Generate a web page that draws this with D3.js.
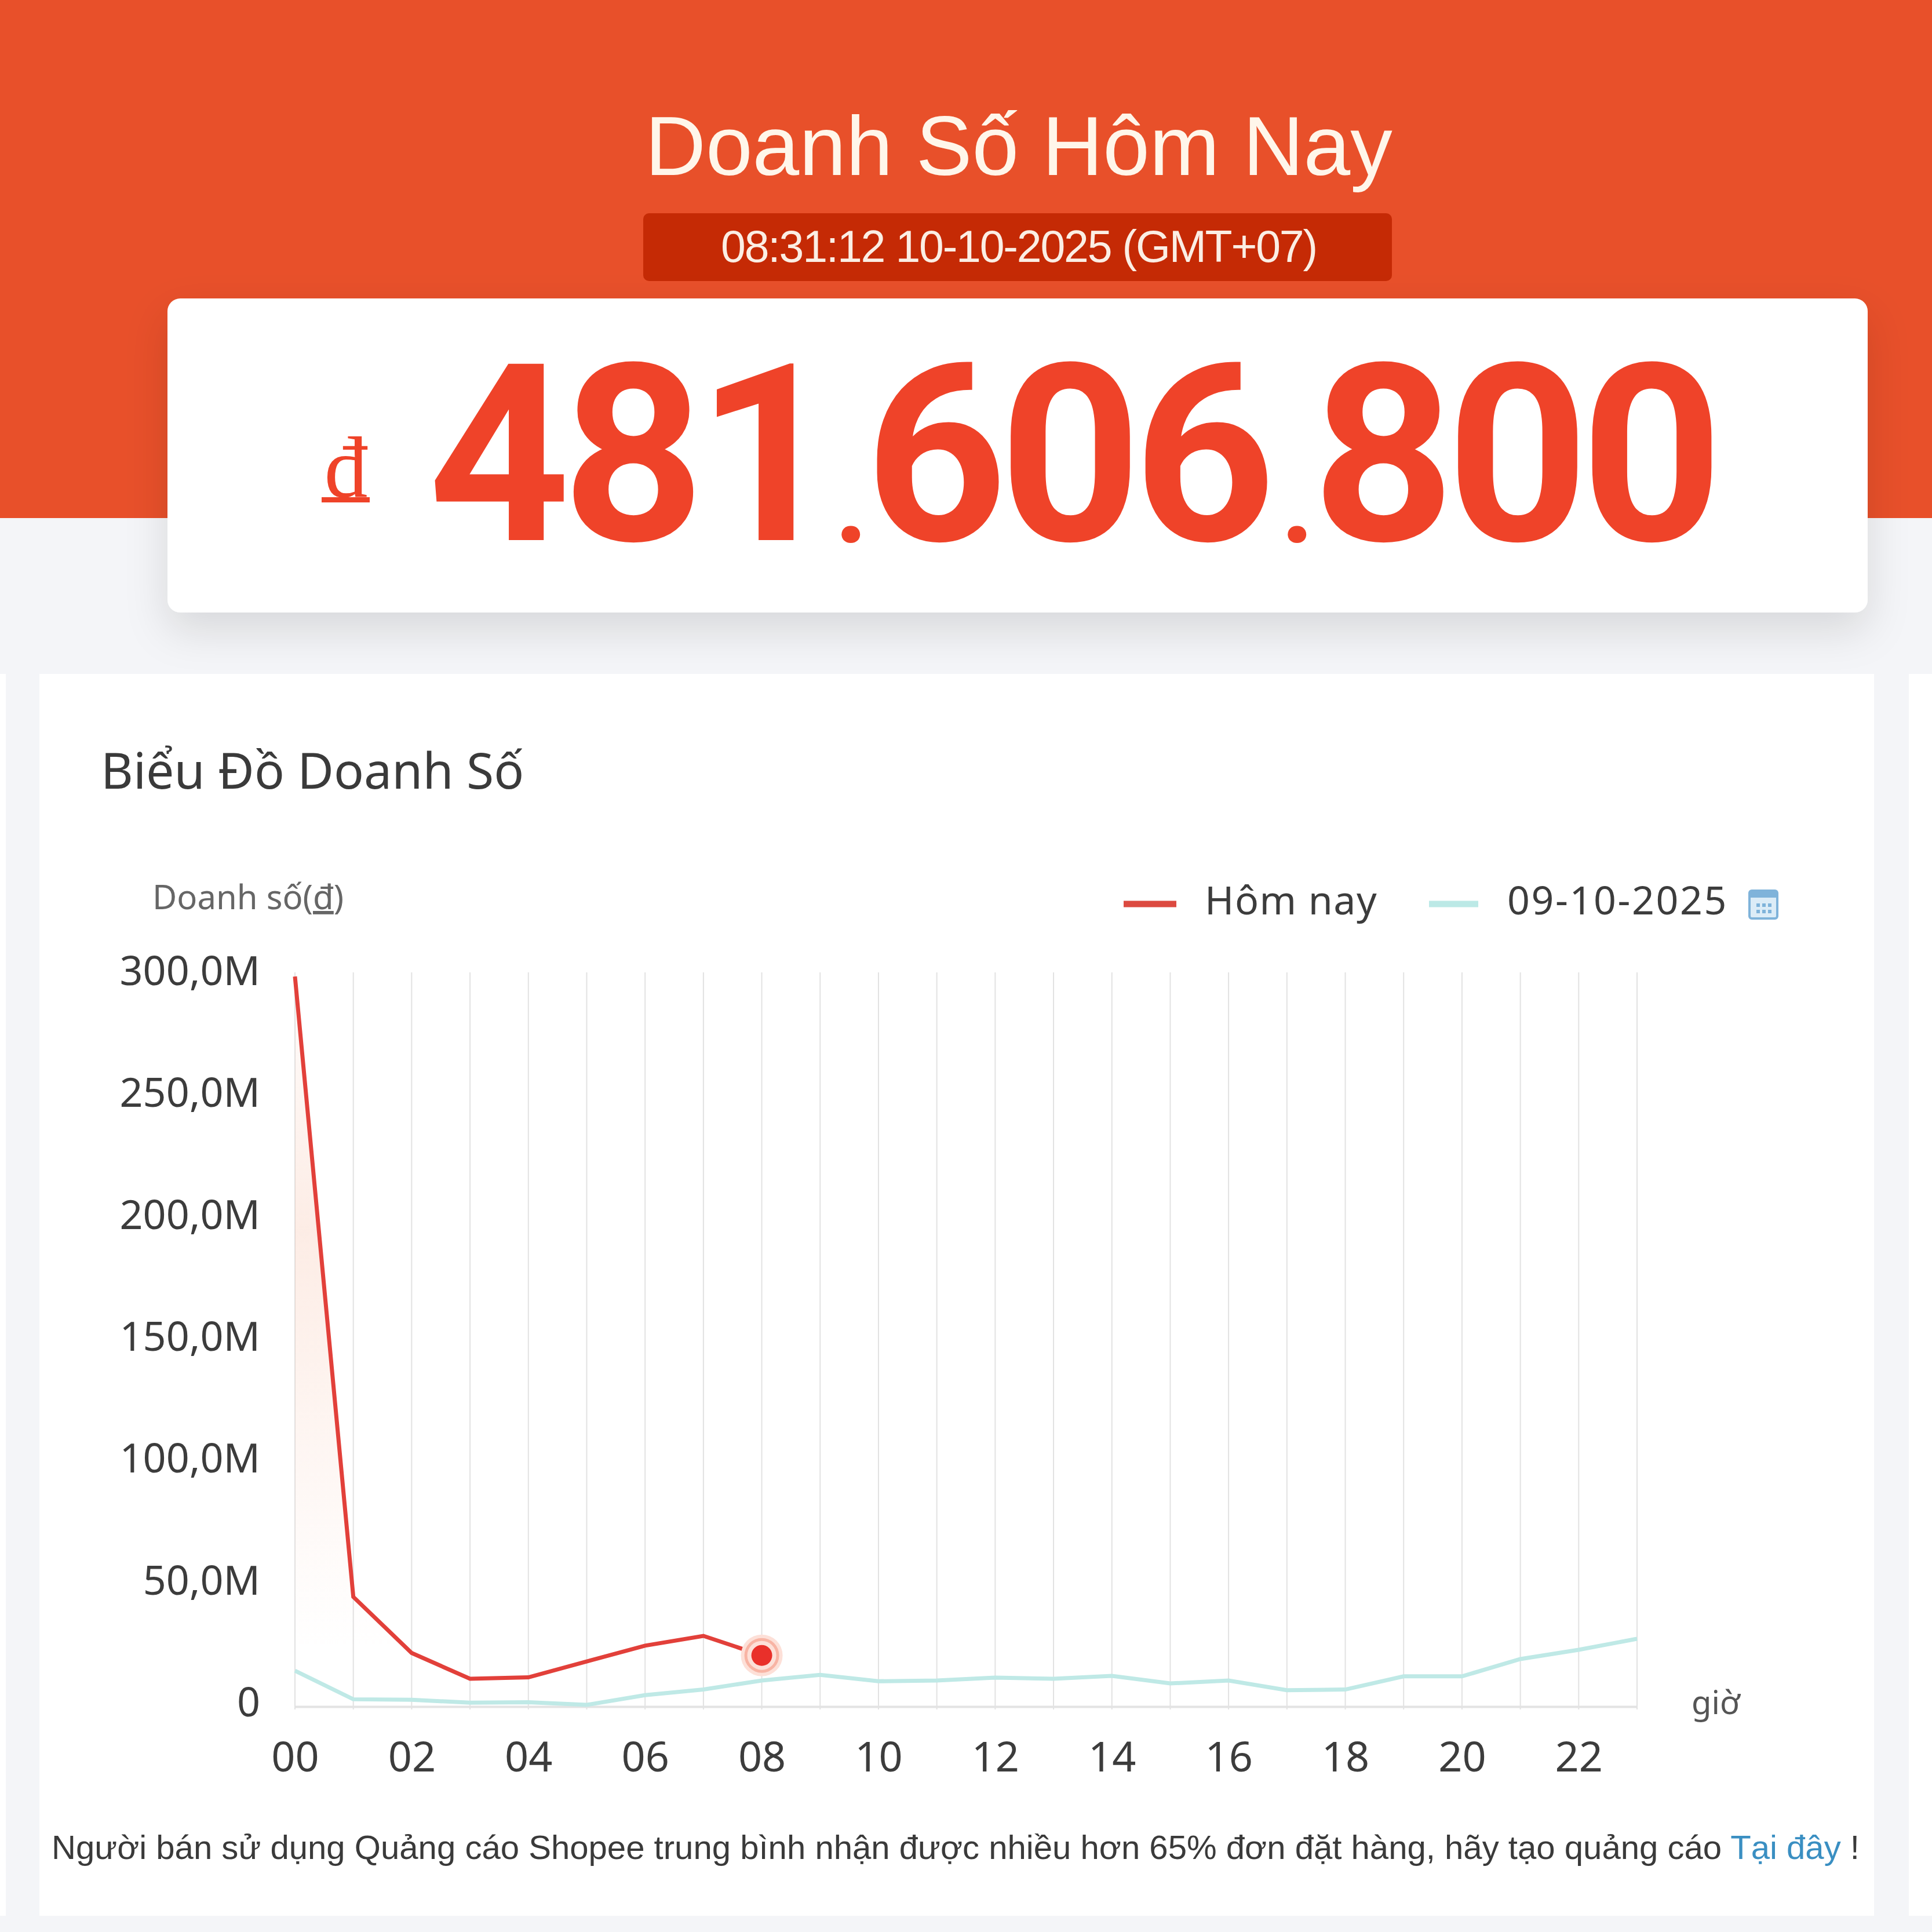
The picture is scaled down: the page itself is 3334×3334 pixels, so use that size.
<!DOCTYPE html>
<html><head><meta charset="utf-8">
<script src="https://cdn.jsdelivr.net/npm/d3@7"></script>
<style>html,body{margin:0;padding:0;background:#f4f5f8}svg{display:block}</style>
</head><body><div id="c"></div>
<script>
const hours = d3.range(0, 24);
const hourLabels = ["00","02","04","06","08","10","12","14","16","18","20","22"];
const today = [299.5,45,22,11.4,12,18.5,25,29,21];
const yesterday = [14.7,3,2.8,1.6,1.8,0.7,4.7,7,10.7,13,10.4,10.7,11.9,11.4,12.6,9.5,10.7,6.7,7,12.4,12.4,19.5,23.3,27.8];
const yTicks = [0,50,100,150,200,250,300];
const yLabels = ["0","50,0M","100,0M","150,0M","200,0M","250,0M","300,0M"];
const sansUI = "'Noto Sans','Open Sans',sans-serif";
const arial = "'Liberation Sans',Arial,sans-serif";

const W=3334,H=3334;
const svg=d3.select("#c").append("svg").attr("width",W).attr("height",H).attr("viewBox",`0 0 ${W} ${H}`);
const defs=svg.append("defs");
const sh=defs.append("filter").attr("id","sh").attr("x","-5%").attr("y","-15%").attr("width","110%").attr("height","140%");
sh.append("feDropShadow").attr("dx",0).attr("dy",30).attr("stdDeviation",36).attr("flood-color","#000").attr("flood-opacity",0.12);
const g=defs.append("linearGradient").attr("id","fill").attr("x1",0).attr("x2",0).attr("y1",0).attr("y2",1);
g.append("stop").attr("offset","0%").attr("stop-color","#f3a27e").attr("stop-opacity",0.03);
g.append("stop").attr("offset","35%").attr("stop-color","#f3a27e").attr("stop-opacity",0.2);
g.append("stop").attr("offset","92%").attr("stop-color","#f3a27e").attr("stop-opacity",0);

// backgrounds
svg.append("rect").attr("width",W).attr("height",H).attr("fill","#f4f5f8");
svg.append("rect").attr("width",W).attr("height",894).attr("fill","#e8502a");
svg.append("rect").attr("x",0).attr("y",1163).attr("width",10).attr("height",2143).attr("fill","#fff");
svg.append("rect").attr("x",3294).attr("y",1163).attr("width",40).attr("height",2143).attr("fill","#fff");

// header
svg.append("text").attr("x",1758).attr("y",302).attr("text-anchor","middle").attr("font-family",arial).attr("font-size",145).attr("fill","#fff6ea").text("Doanh Số Hôm Nay");
svg.append("rect").attr("x",1110).attr("y",368).attr("width",1292).attr("height",117).attr("rx",10).attr("fill","#c52a05");
svg.append("text").attr("x",1758).attr("y",452).attr("text-anchor","middle").attr("font-family",arial).attr("font-size",77).attr("letter-spacing",-2.2).attr("fill","#fbeee4").text("08:31:12 10-10-2025 (GMT+07)");

// total card
svg.append("rect").attr("x",289).attr("y",515).attr("width",2934).attr("height",542).attr("rx",22).attr("fill","#fff").attr("filter","url(#sh)");
const red="#ef4329";
svg.append("text").attr("x",597).attr("y",858).attr("text-anchor","middle").attr("font-family","'Liberation Serif',serif").attr("font-size",150).attr("fill",red).text("đ");
svg.append("rect").attr("x",555).attr("y",858).attr("width",83).attr("height",9).attr("fill",red);
const big=[["481",1086],["606",1840],["800",2612]];
big.forEach(([t,x])=>svg.append("text").attr("x",x).attr("y",932).attr("text-anchor","middle").attr("font-family","Roboto,sans-serif").attr("font-weight",700).attr("font-size",428).attr("letter-spacing",-14).attr("fill",red).text(t));
[1469,2239].forEach(x=>svg.append("text").attr("x",x).attr("y",936).attr("text-anchor","middle").attr("font-family","Roboto,sans-serif").attr("font-weight",700).attr("font-size",200).attr("fill",red).text("."));

// chart card
svg.append("rect").attr("x",68).attr("y",1163).attr("width",3166).attr("height",2143).attr("fill","#fff");
svg.append("text").attr("x",174).attr("y",1361).attr("font-family",sansUI).attr("font-size",86).attr("fill","#3a3a3a").text("Biểu Đồ Doanh Số");
const yt=svg.append("text").attr("x",263).attr("y",1569).attr("font-family",sansUI).attr("font-size",58).attr("fill","#666");
yt.append("tspan").text("Doanh số(");
yt.append("tspan").attr("text-decoration","underline").text("đ");
yt.append("tspan").text(")");

// scales
const x=d3.scaleLinear().domain([0,23]).range([509,2825]);
const y=d3.scaleLinear().domain([0,300]).range([2945,1683]);

// grid
svg.append("g").selectAll("line").data(hours).join("line")
 .attr("x1",d=>x(d)).attr("x2",d=>x(d)).attr("y1",1678).attr("y2",2950)
 .attr("stroke","#e2e2e2").attr("stroke-width",2);

// axes
const ay=svg.append("g").attr("transform","translate(449,-6)")
 .call(d3.axisLeft(y).tickValues(yTicks).tickSize(0).tickPadding(0).tickFormat((d,i)=>yLabels[i]));
ay.select(".domain").remove();
ay.selectAll("text").attr("font-family",sansUI).attr("font-size",70).attr("fill","#3c3c3c");
const ax=svg.append("g").attr("transform","translate(0,2945)")
 .call(d3.axisBottom(x).tickValues(d3.range(0,24,2)).tickSize(0).tickPadding(61).tickFormat((d,i)=>hourLabels[i]));
ax.select(".domain").attr("stroke","#e3e3e3").attr("stroke-width",4);
ax.selectAll("text").attr("font-family",sansUI).attr("font-size",72).attr("fill","#3c3c3c");
svg.append("text").attr("x",2919).attr("y",2958).attr("font-family",sansUI).attr("font-size",56).attr("fill","#555").text("giờ");

// series
const xy=d3.line().x((d,i)=>x(i)).y(d=>y(d));
svg.append("path").datum(today).attr("d",d3.area().x((d,i)=>x(i)).y0(y(0)).y1(d=>y(d))).attr("fill","url(#fill)");
svg.append("path").datum(yesterday).attr("d",xy).attr("fill","none").attr("stroke","#bfe9e6").attr("stroke-width",7);
svg.append("path").datum(today).attr("d",xy).attr("fill","none").attr("stroke","#e2403a").attr("stroke-width",7);

// current marker
const last=today.length-1;
const mk=svg.append("g").attr("transform",`translate(${x(last)},${y(today[last])})`);
[[36,"#fde0d8"],[30,"#f8b4a4"],[25,"#fde0d8"]].forEach(([r,c])=>mk.append("circle").attr("r",r).attr("fill",c));
mk.append("circle").attr("r",18).attr("fill","#e9302a");

// legend
svg.append("line").attr("x1",1939).attr("x2",2030).attr("y1",1560).attr("y2",1560).attr("stroke","#dc4a40").attr("stroke-width",11);
svg.append("text").attr("x",2079).attr("y",1578).attr("font-family",sansUI).attr("font-size",68).attr("letter-spacing",1.5).attr("fill","#3c3c3c").text("Hôm nay");
svg.append("line").attr("x1",2466).attr("x2",2551).attr("y1",1560).attr("y2",1560).attr("stroke","#bce9e6").attr("stroke-width",11);
svg.append("text").attr("x",2601).attr("y",1578).attr("font-family",sansUI).attr("font-size",68).attr("letter-spacing",2.6).attr("fill","#3c3c3c").text("09-10-2025");
const cal=svg.append("g").attr("transform","translate(3019,1537)");
cal.append("rect").attr("width",48).attr("height",48).attr("rx",4).attr("fill","#dcecf7").attr("stroke","#7fb3da").attr("stroke-width",4);
cal.append("rect").attr("width",48).attr("height",12).attr("fill","#7fb3da");
[[12,22],[22,22],[32,22],[12,33],[22,33],[32,33]].forEach(([a,b])=>cal.append("rect").attr("x",a).attr("y",b).attr("width",6).attr("height",6).attr("fill","#7fb3da"));

// footer
const ft=svg.append("text").attr("x",89).attr("y",3208).attr("font-family",arial).attr("font-size",58.1).attr("fill","#3a3a3a");
ft.append("tspan").text("Người bán sử dụng Quảng cáo Shopee trung bình nhận được nhiều hơn 65% đơn đặt hàng, hãy tạo quảng cáo ");
ft.append("tspan").attr("fill","#3a8fc2").text("Tại đây");
ft.append("tspan").text(" !");
</script></body></html>
